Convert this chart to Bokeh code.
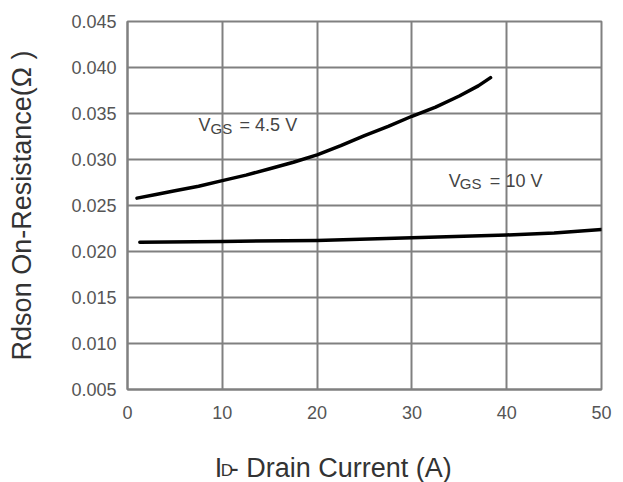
from bokeh.plotting import figure
from bokeh.layouts import column
from bokeh.models import Range1d, FixedTicker, PrintfTickFormatter, Label
from bokeh.embed import file_html
from bokeh.resources import INLINE

# Data
id_vgs45 = [1.0, 3.0, 5.0, 7.5, 10.0, 12.5, 15.0, 17.5, 20.0, 22.5, 25.0, 27.5, 30.0, 32.5, 35.0, 37.0, 38.3]
r_vgs45 = [0.0258, 0.0262, 0.0266, 0.0271, 0.0277, 0.0283, 0.0290, 0.0297, 0.0305, 0.0315, 0.0326, 0.0336, 0.0347, 0.0357, 0.0369, 0.0380, 0.0389]

id_vgs10 = [1.3, 10.0, 20.0, 30.0, 40.0, 45.0, 50.0]
r_vgs10 = [0.0210, 0.0211, 0.0212, 0.0215, 0.0218, 0.0220, 0.0224]

x_ticks = [0, 10, 20, 30, 40, 50]
y_ticks = [0.005, 0.010, 0.015, 0.020, 0.025, 0.030, 0.035, 0.040, 0.045]

FONT = "Liberation Sans"
TXT = "#444444"
GRID = "#808080"
W = 620
LEFT = 127
RIGHT = 19

p = figure(width=W, height=429, output_backend="svg", toolbar_location=None,
           x_range=Range1d(0, 50), y_range=Range1d(0.005, 0.045),
           min_border_left=LEFT, min_border_right=RIGHT, min_border_top=21, min_border_bottom=40)

p.background_fill_color = "white"
p.border_fill_color = "white"
p.outline_line_color = GRID
p.outline_line_width = 2

for ax in (p.xaxis[0], p.yaxis[0]):
    ax.axis_line_color = GRID
    ax.axis_line_width = 2
    ax.major_tick_out = 0
    ax.major_tick_in = 0
    ax.minor_tick_out = 0
    ax.minor_tick_in = 0
    ax.major_label_text_font = FONT
    ax.major_label_text_font_size = "18px"
    ax.major_label_text_color = "#555555"

p.xaxis[0].ticker = FixedTicker(ticks=x_ticks)
p.yaxis[0].ticker = FixedTicker(ticks=y_ticks)
p.yaxis[0].formatter = PrintfTickFormatter(format="%.3f")
p.xaxis[0].major_label_standoff = 16
p.yaxis[0].major_label_standoff = 11

p.yaxis[0].axis_label = "Rdson On-Resistance(\u03a9 )"
p.yaxis[0].axis_label_text_font = FONT
p.yaxis[0].axis_label_text_font_size = "27px"
p.yaxis[0].axis_label_text_font_style = "normal"
p.yaxis[0].axis_label_text_color = "#333333"
p.yaxis[0].axis_label_standoff = 31

p.xgrid[0].ticker = FixedTicker(ticks=x_ticks)
p.ygrid[0].ticker = FixedTicker(ticks=y_ticks)
p.xgrid[0].grid_line_color = GRID
p.ygrid[0].grid_line_color = GRID
p.xgrid[0].grid_line_width = 2
p.ygrid[0].grid_line_width = 2

p.line(id_vgs45, r_vgs45, line_color="black", line_width=3.5, line_cap="round", line_join="round")
p.line(id_vgs10, r_vgs10, line_color="black", line_width=3.5, line_cap="round", line_join="round")


def sub_label(fig, x, y, main, sub, rest, size, sub_size, off_sub, off_rest, color):
    fig.add_layout(Label(x=x, y=y, text=main, text_font=FONT, text_font_size=size,
                         text_color=color, text_baseline="alphabetic"))
    fig.add_layout(Label(x=x, y=y, x_offset=off_sub, y_offset=-3, text=sub, text_font=FONT,
                         text_font_size=sub_size, text_color=color, text_baseline="alphabetic"))
    fig.add_layout(Label(x=x, y=y, x_offset=off_rest, text=rest, text_font=FONT,
                         text_font_size=size, text_color=color, text_baseline="alphabetic"))


sub_label(p, 7.5, 0.0337, "V", "GS", "= 4.5 V", "18px", "15px", 12, 41, TXT)
sub_label(p, 33.9, 0.0277, "V", "GS", "= 10 V", "18px", "15px", 11, 41, TXT)

# strip below the chart carrying the x-axis title (with subscript)
p2 = figure(width=W, height=53, output_backend="svg", toolbar_location=None,
            x_range=Range1d(0, 50), y_range=Range1d(0, 53),
            x_axis_location=None, y_axis_location=None,
            min_border_left=LEFT, min_border_right=RIGHT, min_border_top=0, min_border_bottom=0)
p2.outline_line_color = None
p2.xgrid.visible = False
p2.ygrid.visible = False
p2.background_fill_color = "white"
p2.border_fill_color = "white"

sub_label(p2, 9.2, 15, "I", "D", "- Drain Current (A)", "27px", "17px", 6, 15, "#333333")

layout = column(p, p2, spacing=0)

open("out.html", "w").write(file_html(layout, INLINE))
